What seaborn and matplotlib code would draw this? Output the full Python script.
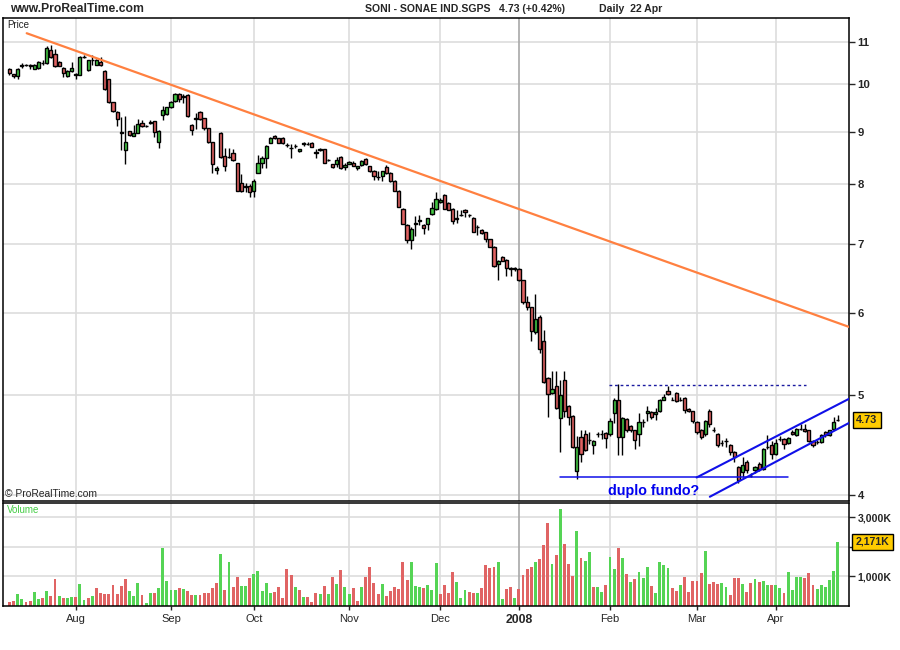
import matplotlib
matplotlib.use("Agg")
import matplotlib.pyplot as plt
from matplotlib.ticker import FixedLocator, NullLocator
from matplotlib.transforms import blended_transform_factory
import seaborn as sns
import numpy as np
import pandas as pd

# SONI - SONAE IND.SGPS, daily candles 10 Jul 2007 - 22 Apr 2008
opens = [10.35, 10.23, 10.18, 10.43, 10.44, 10.44, 10.36, 10.37, 10.49, 10.50,
         10.80, 10.70, 10.51, 10.38, 10.18, 10.31, 10.23, 10.22, 10.63, 10.32,
         10.55, 10.45, 10.51, 10.31, 10.12, 9.61, 9.41, 8.99, 8.64, 9.01,
         8.92, 8.98, 9.18, 9.12, 9.18, 9.21, 8.79, 9.34, 9.36, 9.50,
         9.64, 9.78, 9.74, 9.76, 9.14, 9.25, 9.41, 9.27, 9.07, 8.79,
         8.26, 8.98, 8.52, 8.50, 8.58, 8.39, 8.02, 7.97, 7.97, 7.89,
         8.21, 8.40, 8.49, 8.78, 8.92, 8.87, 8.87, 8.73, 8.68, 8.72,
         8.61, 8.75, 8.76, 8.78, 8.60, 8.64, 8.65, 8.45, 8.37, 8.37,
         8.51, 8.31, 8.38, 8.40, 8.29, 8.35, 8.47, 8.33, 8.24, 8.14,
         8.15, 8.31, 8.20, 8.07, 7.89, 7.58, 7.30, 7.06, 7.32, 7.37,
         7.30, 7.32, 7.49, 7.58, 7.70, 7.81, 7.67, 7.58, 7.41, 7.48,
         7.56, 7.47, 7.43, 7.27, 7.23, 7.19, 7.08, 6.96, 6.70, 6.80,
         6.76, 6.64, 6.64, 6.63, 6.46, 6.16, 6.08, 5.76, 5.95, 5.64,
         5.19, 5.02, 5.10, 4.75, 5.17, 4.88, 4.77, 4.22, 4.55, 4.58,
         4.52, 4.47, 4.58, 4.58, 4.59, 4.58, 4.80, 4.94, 4.55, 4.74,
         4.67, 4.62, 4.58, 4.71, 4.80, 4.81, 4.79, 4.82, 4.95, 5.04,
         4.95, 5.02, 4.94, 4.97, 4.85, 4.82, 4.71, 4.63, 4.58, 4.83,
         4.63, 4.58, 4.49, 4.51, 4.47, 4.40, 4.26, 4.21, 4.31, 4.17,
         4.23, 4.29, 4.24, 4.45, 4.47, 4.38, 4.53, 4.53, 4.49, 4.60,
         4.57, 4.64, 4.64, 4.62, 4.51, 4.50, 4.50, 4.60, 4.57, 4.64,
         4.73]
highs = [10.37, 10.24, 10.37, 10.49, 10.47, 10.47, 10.47, 10.53, 10.56, 10.90,
         10.92, 10.83, 10.53, 10.39, 10.32, 10.51, 10.26, 10.66, 10.69, 10.57,
         10.68, 10.58, 10.64, 10.32, 10.13, 9.62, 9.42, 9.30, 9.31, 9.02,
         9.14, 9.26, 9.23, 9.14, 9.23, 9.22, 9.03, 9.53, 9.51, 9.63,
         9.82, 9.81, 9.78, 9.78, 9.15, 9.38, 9.43, 9.28, 9.08, 8.80,
         8.33, 9.00, 8.68, 8.68, 8.65, 8.40, 8.19, 8.03, 8.00, 8.09,
         8.55, 8.53, 8.73, 8.89, 8.94, 8.88, 8.89, 8.77, 8.75, 8.75,
         8.66, 8.79, 8.80, 8.80, 8.65, 8.68, 8.66, 8.47, 8.38, 8.50,
         8.52, 8.40, 8.43, 8.42, 8.34, 8.45, 8.49, 8.34, 8.26, 8.24,
         8.25, 8.35, 8.22, 8.08, 7.90, 7.59, 7.32, 7.27, 7.45, 7.48,
         7.32, 7.43, 7.70, 7.87, 7.76, 7.83, 7.69, 7.59, 7.55, 7.55,
         7.58, 7.49, 7.44, 7.30, 7.24, 7.20, 7.09, 6.97, 6.76, 6.82,
         6.78, 6.66, 6.66, 6.64, 6.47, 6.24, 6.09, 6.26, 5.98, 5.78,
         5.20, 5.27, 5.27, 5.17, 5.28, 4.89, 4.78, 4.56, 4.62, 4.62,
         4.60, 4.52, 4.60, 4.62, 4.60, 4.75, 4.97, 5.13, 4.76, 4.75,
         4.68, 4.63, 4.80, 4.74, 4.88, 4.82, 4.86, 4.96, 5.01, 5.10,
         4.98, 5.03, 4.98, 4.98, 4.86, 4.83, 4.72, 4.64, 4.73, 4.85,
         4.66, 4.59, 4.52, 4.54, 4.48, 4.41, 4.27, 4.35, 4.33, 4.20,
         4.27, 4.31, 4.44, 4.57, 4.51, 4.53, 4.56, 4.54, 4.55, 4.62,
         4.65, 4.69, 4.69, 4.63, 4.52, 4.52, 4.58, 4.61, 4.63, 4.76,
         4.78]
lows = [10.22, 10.15, 10.12, 10.38, 10.41, 10.34, 10.35, 10.36, 10.45, 10.47,
        10.60, 10.39, 10.42, 10.17, 10.17, 10.28, 10.12, 10.21, 10.60, 10.31,
        10.44, 10.44, 10.43, 9.87, 9.60, 9.41, 9.12, 8.64, 8.37, 8.92,
        8.91, 8.97, 9.09, 9.10, 9.15, 8.89, 8.68, 9.23, 9.35, 9.49,
        9.62, 9.62, 9.60, 9.30, 8.93, 9.05, 9.24, 9.03, 8.78, 8.21,
        8.18, 8.49, 8.24, 8.48, 8.43, 7.88, 7.87, 7.87, 7.78, 7.78,
        8.20, 8.30, 8.30, 8.77, 8.86, 8.77, 8.75, 8.70, 8.49, 8.68,
        8.60, 8.72, 8.73, 8.69, 8.49, 8.61, 8.39, 8.43, 8.30, 8.31,
        8.28, 8.27, 8.37, 8.33, 8.27, 8.34, 8.36, 8.23, 8.08, 8.08,
        8.06, 8.19, 8.05, 7.88, 7.60, 7.32, 7.02, 6.93, 7.13, 7.30,
        7.16, 7.22, 7.47, 7.56, 7.68, 7.57, 7.55, 7.32, 7.34, 7.45,
        7.44, 7.44, 7.19, 7.15, 7.17, 7.04, 6.95, 6.66, 6.47, 6.74,
        6.52, 6.52, 6.60, 6.45, 6.12, 6.05, 5.64, 5.73, 5.49, 5.14,
        4.76, 5.01, 4.85, 4.40, 4.76, 4.68, 4.44, 4.15, 4.31, 4.41,
        4.48, 4.38, 4.55, 4.53, 4.44, 4.56, 4.70, 4.37, 4.37, 4.60,
        4.60, 4.43, 4.46, 4.66, 4.72, 4.74, 4.73, 4.81, 4.94, 5.00,
        4.94, 4.92, 4.93, 4.80, 4.81, 4.70, 4.58, 4.53, 4.56, 4.66,
        4.60, 4.45, 4.46, 4.45, 4.37, 4.31, 4.11, 4.16, 4.20, 4.16,
        4.20, 4.22, 4.23, 4.43, 4.34, 4.37, 4.51, 4.43, 4.48, 4.57,
        4.56, 4.63, 4.60, 4.50, 4.45, 4.48, 4.49, 4.55, 4.56, 4.63,
        4.72]
closes = [10.26, 10.18, 10.35, 10.45, 10.44, 10.42, 10.45, 10.51, 10.50, 10.84,
          10.64, 10.41, 10.43, 10.26, 10.31, 10.38, 10.21, 10.64, 10.64, 10.56,
          10.57, 10.56, 10.45, 9.89, 9.61, 9.42, 9.26, 8.97, 8.79, 8.93,
          8.98, 9.16, 9.11, 9.12, 9.19, 8.99, 9.02, 9.45, 9.50, 9.62,
          9.78, 9.68, 9.73, 9.31, 9.04, 9.27, 9.26, 9.07, 8.79, 8.37,
          8.30, 8.50, 8.33, 8.50, 8.44, 7.89, 7.89, 7.96, 7.86, 8.07,
          8.40, 8.49, 8.71, 8.88, 8.87, 8.78, 8.77, 8.73, 8.68, 8.72,
          8.65, 8.77, 8.76, 8.70, 8.59, 8.65, 8.40, 8.45, 8.31, 8.45,
          8.29, 8.35, 8.41, 8.34, 8.33, 8.43, 8.37, 8.24, 8.15, 8.14,
          8.24, 8.20, 8.06, 7.89, 7.61, 7.33, 7.06, 7.25, 7.34, 7.39,
          7.26, 7.42, 7.59, 7.75, 7.73, 7.58, 7.56, 7.38, 7.42, 7.48,
          7.52, 7.47, 7.19, 7.27, 7.18, 7.08, 6.96, 6.67, 6.75, 6.75,
          6.64, 6.63, 6.63, 6.46, 6.16, 6.08, 5.77, 5.92, 5.54, 5.15,
          5.01, 5.07, 4.86, 5.00, 4.83, 4.76, 4.45, 4.45, 4.38, 4.42,
          4.52, 4.51, 4.58, 4.58, 4.54, 4.72, 4.95, 4.55, 4.75, 4.62,
          4.62, 4.52, 4.71, 4.71, 4.82, 4.76, 4.81, 4.95, 4.98, 5.01,
          4.95, 4.93, 4.94, 4.84, 4.82, 4.72, 4.60, 4.55, 4.72, 4.69,
          4.63, 4.47, 4.49, 4.51, 4.40, 4.35, 4.14, 4.28, 4.23, 4.17,
          4.26, 4.24, 4.43, 4.45, 4.38, 4.49, 4.53, 4.48, 4.54, 4.58,
          4.64, 4.64, 4.61, 4.51, 4.47, 4.50, 4.57, 4.57, 4.62, 4.71,
          4.73]
# volume in thousands of shares
volumes = [135, 170, 405, 236, 135, 170, 472, 236, 270, 506,
           337, 910, 337, 270, 270, 303, 303, 742, 202, 270,
           337, 607, 438, 405, 405, 708, 405, 674, 910, 506,
           337, 775, 371, 101, 438, 438, 607, 1955, 843, 539,
           539, 607, 573, 506, 371, 371, 371, 438, 438, 607,
           775, 1753, 539, 1483, 640, 978, 674, 674, 944, 1079,
           1180, 506, 775, 438, 472, 640, 270, 1247, 1045, 640,
           539, 303, 303, 135, 438, 405, 674, 405, 978, 742,
           1213, 640, 405, 607, 170, 640, 978, 1315, 775, 405,
           742, 337, 506, 640, 573, 1483, 876, 1483, 674, 640,
           607, 708, 539, 1449, 405, 708, 438, 1146, 809, 270,
           539, 472, 438, 438, 607, 1382, 1281, 1315, 1483, 236,
           573, 640, 270, 573, 1045, 1247, 1315, 1483, 1584, 2056,
           2798, 1416, 1719, 3303, 2090, 1416, 1011, 2528, 1618, 1517,
           1820, 640, 640, 472, 708, 1652, 1247, 1955, 1618, 1079,
           809, 910, 1146, 944, 1315, 674, 438, 1483, 1382, 1281,
           607, 506, 708, 978, 472, 843, 843, 1112, 1854, 742,
           809, 742, 775, 640, 371, 944, 944, 742, 472, 775,
           910, 809, 843, 708, 708, 708, 607, 438, 1146, 539,
           978, 978, 944, 1112, 708, 573, 708, 640, 876, 1180,
           2171]

holidays = ['2007-12-25', '2007-12-26', '2008-01-01', '2008-03-21', '2008-03-24']
month_labels = ['Aug', 'Sep', 'Oct', 'Nov', 'Dec', '2008', 'Feb', 'Mar', 'Apr']
price_ticks = [4, 5, 6, 7, 8, 9, 10, 11]
vol_ticks = [1000, 2000, 3000]
vol_tick_labels = ['1,000K', '', '3,000K']
last_price = 4.73
last_volume = 2171

# hand-drawn lines: (x in trading-day index, y in price)
orange_trend = ([4.17, 202.77], [11.21, 5.82])
channel_top = ([165.9, 202.77], [4.16, 4.96])
channel_bottom = ([169.1, 202.77], [3.985, 4.70])
support = ([132.9, 188.0], [4.16, 4.16])
resistance = ([144.8, 192.3], [5.11, 5.11])

dates = pd.bdate_range('2007-07-10', '2008-04-22')
dates = dates[~dates.isin(pd.to_datetime(holidays))]
df = pd.DataFrame({'date': dates, 'open': opens, 'high': highs, 'low': lows,
                   'close': closes, 'volume': volumes})
df['x'] = np.arange(len(df))
df['up'] = df['close'] >= df['open']
df['vol_dir'] = np.where(df['close'] >= df['close'].shift(1), 'up', 'down')
month_pos = [i for i in range(1, len(df)) if df['date'][i].month != df['date'][i - 1].month]

sns.set_style('white', {'axes.edgecolor': 'black'})
plt.rcParams['font.family'] = ['Liberation Sans', 'DejaVu Sans']

GREEN = '#44C944'
RED = '#E06262'
GRID = '#DDDDDD'

fig = plt.figure(figsize=(9, 6.5), dpi=100)
ax = fig.add_axes([3.3 / 900, 1 - 500.7 / 650, 846 / 900, 482.4 / 650])
axv = fig.add_axes([3.3 / 900, 1 - 606 / 650, 846 / 900, 102.7 / 650])

# grid
for p in price_ticks:
    ax.axhline(p, color=GRID, lw=1.2, zorder=0)
for v in vol_ticks:
    axv.axhline(v, color=GRID, lw=1.2, zorder=0)
for k, pos in enumerate(month_pos):
    c = '#A8A8A8' if month_labels[k] == '2008' else GRID
    ax.axvline(pos, color=c, lw=1.2, zorder=0)
    axv.axvline(pos, color=c, lw=1.2, zorder=0)

# candles
ax.vlines(df['x'], df['low'], df['high'], color='black', lw=1.0, zorder=2)
ax.bar(df['x'], (df['close'] - df['open']).abs(), bottom=df[['open', 'close']].min(axis=1),
       width=0.78, color=np.where(df['up'], GREEN, RED), edgecolor='black', linewidth=1.0, zorder=3)

# drawn lines
ax.plot(*orange_trend, color='#FF8040', lw=1.6, zorder=4)
ax.plot(*channel_top, color='#1010E8', lw=1.5, zorder=4)
ax.plot(*channel_bottom, color='#1010E8', lw=1.5, zorder=4)
ax.plot(*support, color='#1010E8', lw=1.1, zorder=4)
ax.plot(*resistance, color='#1a1aA0', lw=1.0, ls=(0, (2, 2)), zorder=4)

ax.set_yscale('log')
ax.set_ylim(3.95, 11.59)
ax.set_xlim(-1.48, 202.77)
ax.yaxis.set_major_locator(FixedLocator(price_ticks))
ax.yaxis.set_minor_locator(NullLocator())
ax.set_yticks(price_ticks, labels=[str(p) for p in price_ticks], fontsize=8.2, fontweight='bold')
ax.yaxis.tick_right()
ax.tick_params(axis='y', right=True, left=False, direction='out', length=4, width=1, pad=2)
ax.set_xticks([])
for s in ax.spines.values():
    s.set_linewidth(1.1)

# volume
sns.barplot(data=df, x='x', y='volume', hue='vol_dir', palette={'up': '#55D455', 'down': '#E06464'},
            native_scale=True, dodge=False, width=0.7, saturation=1, errorbar=None,
            legend=False, linewidth=0, ax=axv)
axv.set_xlim(-1.48, 202.77)
axv.set_ylim(0, 3480)
axv.set_yticks(vol_ticks, labels=vol_tick_labels, fontsize=7.6, fontweight='bold')
axv.yaxis.tick_right()
axv.tick_params(axis='y', right=True, left=False, direction='out', length=4, width=1, pad=2)
axv.set_xticks(month_pos, labels=month_labels, fontsize=8)
axv.tick_params(axis='x', bottom=True, direction='out', length=3, width=1, pad=3)
for lab in axv.get_xticklabels():
    if lab.get_text() == '2008':
        lab.set_fontweight('bold')
        lab.set_fontsize(8.8)
axv.set_xlabel('')
axv.set_ylabel('')
for s in axv.spines.values():
    s.set_linewidth(1.1)

# last value boxes
tr = blended_transform_factory(ax.transAxes, ax.transData)
ax.text(1.0209, last_price, f'{last_price:.2f}', transform=tr, ha='center', va='center',
        fontsize=7.8, fontweight='bold',
        bbox=dict(boxstyle='square,pad=0.3', fc='#FFCC00', ec='black', lw=1))
trv = blended_transform_factory(axv.transAxes, axv.transData)
axv.text(1.0274, last_volume, f'{last_volume:,}K', transform=trv, ha='center', va='center',
         fontsize=7.6, fontweight='bold',
         bbox=dict(boxstyle='square,pad=0.3', fc='#FFCC00', ec='black', lw=1))

# header and labels
fig.text(10 / 900, 1 - 9.5 / 650, 'www.ProRealTime.com', fontsize=8.7, fontweight='bold', va='center')
fig.text(365 / 900, 1 - 9.5 / 650, 'SONI - SONAE IND.SGPS', fontsize=7.6, fontweight='bold', va='center')
fig.text(499 / 900, 1 - 9.5 / 650, '4.73 (+0.42%)', fontsize=7.6, fontweight='bold', va='center')
fig.text(599 / 900, 1 - 9.5 / 650, 'Daily  22 Apr', fontsize=7.6, fontweight='bold', va='center')
fig.text(7 / 900, 1 - 25 / 650, 'Price', fontsize=7, color='#222222', va='center')
fig.text(5 / 900, 1 - 494 / 650, '\u00a9 ProRealTime.com', fontsize=7.4, va='center')
fig.text(7 / 900, 1 - 510 / 650, 'Volume', fontsize=7, color='#44CC44', va='center')
fig.text(608 / 900, 1 - 490.5 / 650, 'duplo fundo?', fontsize=10.3, fontweight='bold',
         color='#0000EE', va='center')

fig.savefig('out.png', dpi=100)
